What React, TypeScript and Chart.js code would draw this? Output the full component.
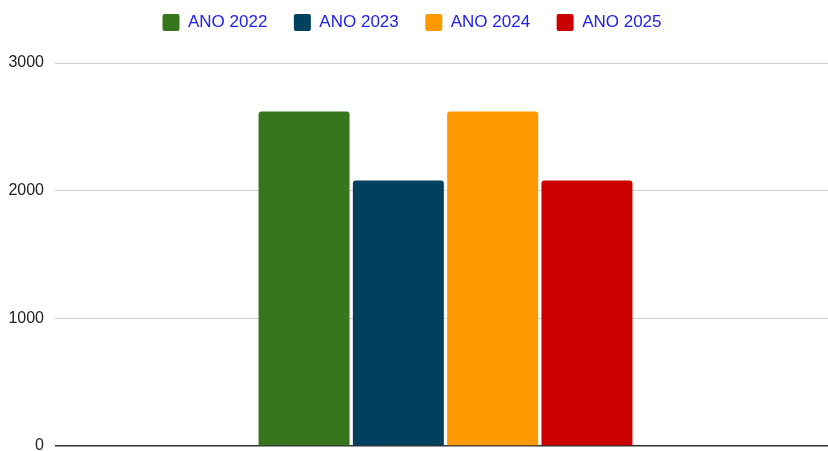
import React, { useEffect, useRef } from "react";
import { Chart, registerables } from "chart.js";

Chart.register(...registerables);

const categories = [""];
const seriesNames = ["ANO 2022", "ANO 2023", "ANO 2024", "ANO 2025"];
const seriesValues = [[2620], [2080], [2620], [2080]];
const seriesColors = ["#38761d", "#01405f", "#ff9900", "#cc0000"];
const yTicks = [0, 1000, 2000, 3000];

const legendTweak = {
  id: "legendTweak",
  afterInit(chart: any) {
    const legend = chart.legend;
    if (!legend) return;
    const origFit = legend.fit;
    legend.fit = function () {
      origFit.call(this);
      this.height += 22;
    };
    const origDraw = legend.draw;
    legend.draw = function (...args: any[]) {
      const ctx = this.ctx;
      ctx.save();
      ctx.translate(-10, 0);
      origDraw.apply(this, args);
      ctx.restore();
    };
  },
};

export default function App() {
  const ref = useRef<HTMLCanvasElement | null>(null);
  useEffect(() => {
    if (!ref.current) return;
    const chart = new Chart(ref.current, {
      type: "bar",
      data: {
        labels: categories,
        datasets: seriesNames.map((name, i) => ({
          label: name,
          data: seriesValues[i],
          backgroundColor: seriesColors[i],
          borderRadius: 3,
          borderSkipped: "bottom",
          categoryPercentage: 0.483,
          barPercentage: 0.965,
        })),
      },
      plugins: [legendTweak],
      options: {
        animation: false,
        responsive: false,
        maintainAspectRatio: false,
        layout: { padding: { left: 8, right: 0, top: -12.5, bottom: 5 } },
        plugins: {
          legend: {
            position: "top",
            labels: {
              color: "#2121ee",
              font: { family: "Arial, 'Liberation Sans', sans-serif", size: 17 },
              boxWidth: 17,
              boxHeight: 17,
              padding: 26.5,
              useBorderRadius: true,
              borderRadius: 2,
            },
          },
          tooltip: { enabled: false },
        },
        scales: {
          x: {
            display: false,
          },
          y: {
            min: yTicks[0],
            max: yTicks[yTicks.length - 1],
            afterBuildTicks: (axis: any) => {
              axis.ticks = yTicks.map((v) => ({ value: v }));
            },
            afterFit: (scale: any) => {
              scale.width = 47;
              scale.paddingTop = 0;
              scale.paddingBottom = 0;
            },
            border: { display: false },
            grid: {
              drawTicks: false,
              color: (ctx: any) => (ctx.tick && ctx.tick.value === 0 ? "#333333" : "#cccccc"),
              lineWidth: (ctx: any) => (ctx.tick && ctx.tick.value === 0 ? 1.5 : 1),
            },
            ticks: {
              padding: 11,
              color: "#222222",
              font: { family: "Arial, 'Liberation Sans', sans-serif", size: 16 },
              callback: (v: any) => String(v),
            },
          },
        },
      },
    });
    return () => chart.destroy();
  }, []);
  return (
    <div style={{ position: "fixed", left: 0, top: 0, width: 828, height: 451, background: "#fff", overflow: "hidden" }}>
      <canvas ref={ref} width={836} height={451} style={{ display: "block", width: 836, height: 451 }} />
    </div>
  );
}
